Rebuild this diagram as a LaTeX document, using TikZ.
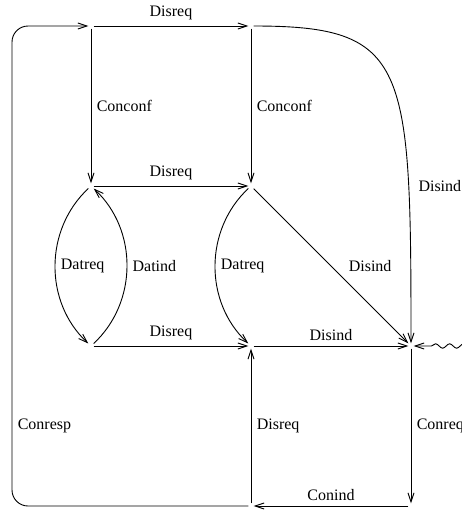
\documentclass[tikz,border=0pt]{standalone}
\usepackage{fontspec}
\setmainfont{Liberation Serif}
\usepackage{tikz}
\usetikzlibrary{positioning, arrows.meta, decorations.pathmorphing}

\tikzset{
  pt/.style={inner sep=2.5pt},
  conn/.style={line width=0.9pt,-{Straight Barb[length=9pt,width=6pt]}}
}

\begin{document}
\begin{tikzpicture}[node distance=160pt, on grid]
  \fontsize{16pt}{19pt}\selectfont
  \useasboundingbox (0,0) rectangle (462pt,-512pt);
  \node[pt] at (91pt,-26pt) (a) {};
  \node[pt, right = of a]  (b)  {};
  \node[pt, below = of a]  (c)  {};
  \node[pt, right = of c]  (d)  {};
  \node[pt, below = of c]  (e)  {};
  \node[pt, right = of e]  (f)  {};
  \node[pt, right = of f]  (g)  {};
  \node[pt, below = of f]  (h)  {};
  \node[pt, right = of h]  (i)  {};
  \coordinate[left = 79pt of a]  (l);
  \coordinate[right = 64pt of g]  (w);

  \draw[conn] (a) -- node[above]  {Disreq} (b);
  \draw[conn] (a) -- node[right]  {Conconf} (c);
  \draw[conn] (b) -- node[right]  {Conconf} (d);
  \draw[conn] (c) -- node[above]  {Disreq} (d);
  \draw[conn] (c) to[bend right=47] node[right]  {Datreq} (e);
  \draw[conn] (e) to[bend right=47] node[right]  {Datind} (c);
  \draw[conn] (d) to[bend right=47] node[right]  {Datreq} (f);
  \draw[conn] (d) -- node[right=12pt]  {Disind} (g);
  \draw[conn] (b) .. controls +(157pt,0pt) and +(0pt,283pt) .. (g) node[pos=0.77,right=4pt]  {Disind};
  \draw[conn] (e) -- node[above]  {Disreq} (f);
  \draw[conn] (f) -- node[above]  {Disind} (g);
  \draw[conn] (h) -- node[right]  {Disreq} (f);
  \draw[conn] (g) -- node[right]  {Conreq} (i);
  \draw[conn] (i) -- node[above]  {Conind} (h);
  \draw[conn, rounded corners=16pt] (h) -- (h -| l) -- node[right,pos=0.167]  {Conresp} (a -| l) -- (a);
  \draw[conn, decorate, decoration={snake, amplitude=2.2pt, segment length=14pt, post length=12pt}] (w) -- (g);
\end{tikzpicture}
\end{document}
